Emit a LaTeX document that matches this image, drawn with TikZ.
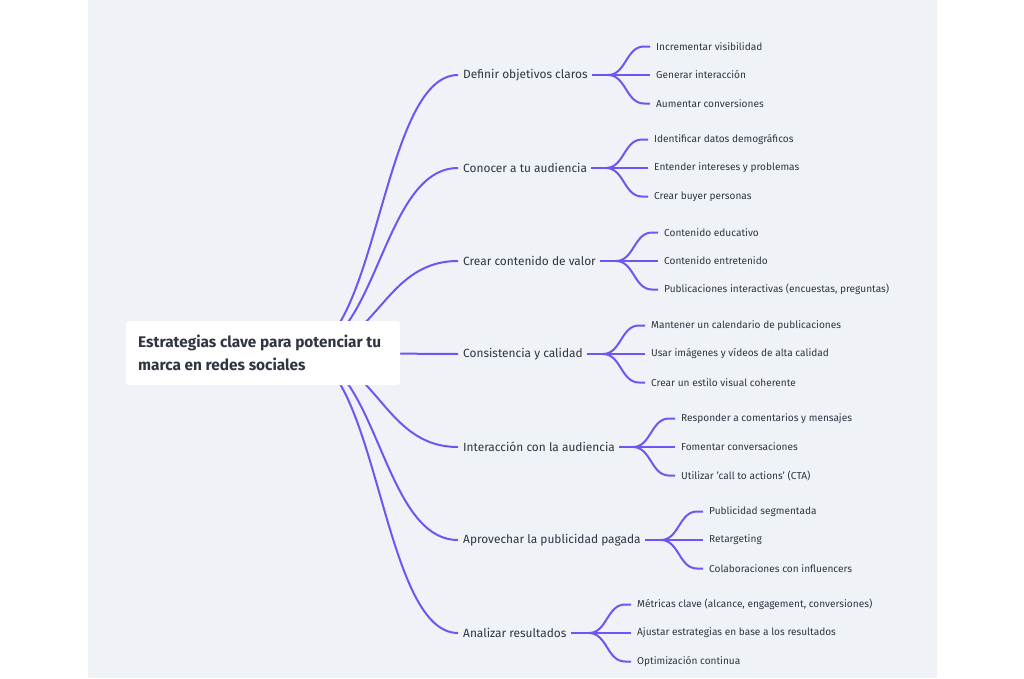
\documentclass[tikz,border=0pt]{standalone}
\usepackage{fontspec}
\setmainfont{Fira Sans}
\usetikzlibrary{calc}
\definecolor{bgcol}{HTML}{EFF2F6}
\definecolor{linkcol}{HTML}{6F55F2}
\definecolor{txtcol}{HTML}{2F3542}
\tikzset{
  link/.style={draw=linkcol,line width=2pt},
  topic/.style={anchor=west,inner sep=0pt,text=txtcol,font=\fontsize{11.9}{14}\selectfont},
  sub/.style={anchor=west,inner sep=0pt,text=txtcol,font=\fontsize{10.1}{12}\selectfont},
}
\begin{document}
\begin{tikzpicture}[x=1pt,y=-1pt]
\useasboundingbox (0,0) rectangle (1024,678);
\fill[bgcol] (88,0) rectangle (937,678);

% root
\coordinate (r) at (300,353);
\node[topic] (t1) at (463,75) {Definir objetivos claros};
\node[topic] (t2) at (463,168) {Conocer a tu audiencia};
\node[topic] (t3) at (463,261) {Crear contenido de valor};
\node[topic] (t4) at (463,354) {Consistencia y calidad};
\node[topic] (t5) at (463,447) {Interacción con la audiencia};
\node[topic] (t6) at (463,540) {Aprovechar la publicidad pagada};
\node[topic] (t7) at (463,633) {Analizar resultados};

\foreach \t in {t1,t2,t3,t5,t6,t7}
  \draw[link] (r) .. controls (378,353) and ($(\t.west)+(-82,0)$) .. ($(\t.west)+(-5,0)$);
\draw[link] (r) -- ($(t4.west)+(-5,0)$);

\node[fill=white,rounded corners=3pt,minimum width=274pt,minimum height=64pt,inner sep=0pt] (root) at (263,353) {};
\node[anchor=west,inner sep=0pt,text=txtcol,align=left,font=\bfseries\fontsize{15.4}{23}\selectfont] (rootlabel) at (138,353)
  {Estrategias clave para potenciar tu\\marca en redes sociales};

% children
\foreach \t/\y/\cx/\a/\b/\c in {
  t1/75/656/Incrementar visibilidad/Generar interacción/Aumentar conversiones,
  t2/168/654/Identificar datos demográficos/Entender intereses y problemas/Crear buyer personas,
  t3/261/664/Contenido educativo/Contenido entretenido/Publicaciones interactivas (encuestas{,} preguntas),
  t4/354/651/Mantener un calendario de publicaciones/Usar imágenes y vídeos de alta calidad/Crear un estilo visual coherente,
  t5/447/681/Responder a comentarios y mensajes/Fomentar conversaciones/Utilizar 'call to actions' (CTA),
  t6/540/709/Publicidad segmentada/Retargeting/Colaboraciones con influencers,
  t7/633/637/Métricas clave (alcance{,} engagement{,} conversiones)/Ajustar estrategias en base a los resultados/Optimización continua}{
  \node[sub] (\t a) at (\cx,\y-28.5) {\a};
  \node[sub] (\t b) at (\cx,\y) {\b};
  \node[sub] (\t c) at (\cx,\y+28.5) {\c};
  \coordinate (\t s) at (\cx-48,\y);
  \draw[link] ($(\t.east)+(4,0)$) -- (\t s) -- ($(\t b.west)+(-6,0)$);
  \draw[link] (\t s) .. controls +(18,0) and ($(\t a.west)+(-30,0)$) .. ($(\t a.west)+(-12,0)$) -- ($(\t a.west)+(-6,0)$);
  \draw[link] (\t s) .. controls +(18,0) and ($(\t c.west)+(-30,0)$) .. ($(\t c.west)+(-12,0)$) -- ($(\t c.west)+(-6,0)$);
}
\end{tikzpicture}
\end{document}
